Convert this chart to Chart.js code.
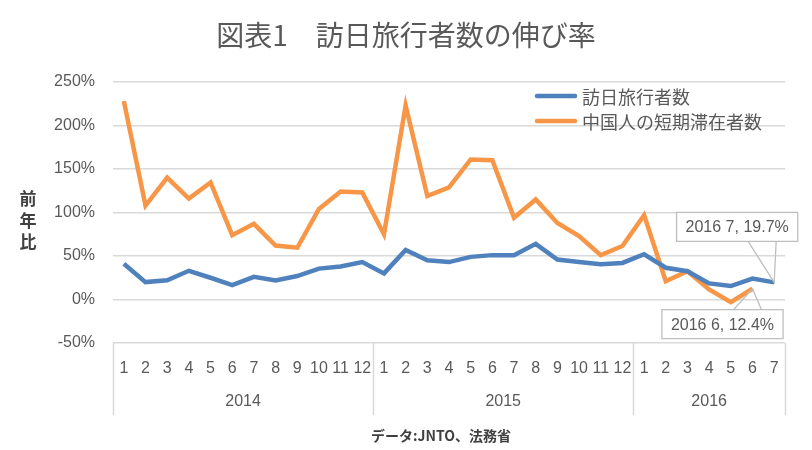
<!DOCTYPE html>
<html>
<head>
<meta charset="utf-8">
<script src="https://cdn.jsdelivr.net/npm/chart.js@4"></script>
<style>
	body { margin: 0; background: #fff; }
	#wrap { width: 812px; height: 450px; }
</style>
</head>
<body>
<div id="wrap"><canvas id="growthChart"></canvas></div>
<script>
// categories
const years = ['2014', '2015', '2016'];
const monthsPerYear = [12, 12, 7];
const months = [
	'1', '2', '3', '4', '5', '6', '7', '8', '9', '10', '11', '12',
	'1', '2', '3', '4', '5', '6', '7', '8', '9', '10', '11', '12',
	'1', '2', '3', '4', '5', '6', '7'
];

// series (%)
const seriesNames = ['訪日旅行者数', '中国人の短期滞在者数'];
const visitors = [
	41, 20, 22, 33, 25, 16.5, 26, 22, 27, 35.5, 38, 43,
	30, 57, 45, 43, 49, 51, 51, 64, 46, 43, 40.5, 42,
	52, 36.5, 32.5, 18.5, 15.5, 24, 19.7
];
const chinaShortStay = [
	228, 108, 140, 116, 134.5, 74, 87, 62, 59.5, 104, 124, 123,
	75, 223, 119, 129, 161, 160, 94, 115, 88, 73, 51, 61.5,
	97, 21, 32.5, 11.5, -3, 12.4
];

// y ticks
const yTicks = [-50, 0, 50, 100, 150, 200, 250];

// labelled points: [dataset index, point index]
const calloutPoints = [[0, 30], [1, 29]];

const chartTitle = '図表1　訪日旅行者数の伸び率';
const gray = '#595959';
const gridColor = '#d9d9d9';
const latin = '"Liberation Sans", Arial, sans-serif';
const cjk = '"Noto Sans CJK JP", sans-serif';

function yearOf(index) {
	let n = index;
	for (let y = 0; y < years.length; y++) {
		if (n < monthsPerYear[y]) return years[y];
		n -= monthsPerYear[y];
	}
	return '';
}

const decor = {
	id: 'decor',
	afterDraw(chart) {
		const ctx = chart.ctx;
		const x = chart.scales.x;
		const area = chart.chartArea;
		const step = x.width / months.length;
		ctx.save();

		// title
		ctx.fillStyle = gray;
		ctx.textAlign = 'center';
		ctx.textBaseline = 'middle';
		ctx.font = '28px ' + cjk;
		ctx.fillText(chartTitle, 406, 35);

		// year dividers and labels
		ctx.strokeStyle = gridColor;
		ctx.lineWidth = 1.5;
		ctx.font = '16px ' + latin;
		let first = 0;
		const edges = [x.getPixelForValue(0) - step / 2];
		years.forEach((yr, i) => {
			const last = first + monthsPerYear[i] - 1;
			const left = x.getPixelForValue(first) - step / 2;
			const right = x.getPixelForValue(last) + step / 2;
			edges.push(right);
			ctx.fillText(yr, (left + right) / 2, area.bottom + 59);
			first = last + 1;
		});
		edges.forEach(px => {
			ctx.beginPath();
			ctx.moveTo(Math.round(px) + 0.5, area.bottom);
			ctx.lineTo(Math.round(px) + 0.5, area.bottom + 72);
			ctx.stroke();
		});

		// y axis title, stacked
		ctx.fillStyle = '#404040';
		ctx.font = 'bold 17px ' + cjk;
		const yTitle = '前年比';
		const mid = (area.top + area.bottom) / 2 + 8;
		for (let i = 0; i < yTitle.length; i++) {
			ctx.fillText(yTitle[i], 28, mid + (i - 1) * 21.5);
		}

		// footer
		ctx.font = 'bold 14px ' + cjk;
		ctx.fillText('データ:JNTO、法務省', 441, 436);

		// legend inside plot
		ctx.textAlign = 'left';
		ctx.font = '18px ' + cjk;
		chart.data.datasets.forEach((ds, i) => {
			const ly = 96 + i * 25;
			ctx.strokeStyle = ds.borderColor;
			ctx.lineWidth = 4.5;
			ctx.lineCap = 'round';
			ctx.beginPath();
			ctx.moveTo(537, ly);
			ctx.lineTo(575, ly);
			ctx.stroke();
			ctx.fillStyle = gray;
			ctx.fillText(ds.label, 582, ly + 1);
		});

		// callouts
		ctx.font = '16px ' + latin;
		ctx.textAlign = 'center';
		ctx.lineCap = 'butt';
		const boxes = [
			{ dx: -37, dy: -70, up: true },
			{ dx: -30, dy: 21, up: false }
		];
		calloutPoints.forEach(([d, i], k) => {
			const pt = chart.getDatasetMeta(d).data[i];
			const val = chart.data.datasets[d].data[i];
			const text = yearOf(i) + ' ' + months[i] + ', ' + val.toFixed(1) + '%';
			const w = ctx.measureText(text).width + 18;
			const h = 29;
			const cx = pt.x + boxes[k].dx;
			const top = pt.y + boxes[k].dy;
			const edgeY = boxes[k].up ? top + h : top;
			ctx.fillStyle = '#fff';
			ctx.strokeStyle = '#bfbfbf';
			ctx.lineWidth = 1.3;
			ctx.beginPath();
			ctx.rect(cx - w / 2, top, w, h);
			ctx.fill();
			ctx.stroke();
			ctx.beginPath();
			ctx.moveTo(cx + 11, edgeY);
			ctx.lineTo(pt.x, pt.y);
			ctx.lineTo(cx + 39, edgeY);
			ctx.stroke();
			ctx.fillStyle = gray;
			ctx.fillText(text, cx, top + h / 2 + 1);
		});
		ctx.restore();
	}
};

new Chart(document.getElementById('growthChart'), {
	type: 'line',
	data: {
		labels: months,
		datasets: [{
			label: seriesNames[0],
			data: visitors,
			borderColor: '#4f81bd',
			borderWidth: 4.5,
			pointRadius: 0,
			tension: 0
		}, {
			label: seriesNames[1],
			data: chinaShortStay,
			borderColor: '#f79646',
			borderWidth: 4.5,
			pointRadius: 0,
			tension: 0
		}]
	},
	options: {
		responsive: true,
		maintainAspectRatio: false,
		animation: false,
		layout: { padding: { left: 0, right: 27, top: 82, bottom: 0 } },
		plugins: {
			legend: { display: false },
			tooltip: { enabled: false },
			title: { display: false }
		},
		scales: {
			x: {
				offset: true,
				afterFit: s => { s.height = 107; },
				grid: { display: false, drawTicks: false },
				border: { display: false },
				ticks: {
					color: gray,
					font: { family: latin, size: 16 },
					padding: 16,
					maxRotation: 0,
					autoSkip: false
				}
			},
			y: {
				min: -50,
				max: 250,
				afterFit: s => { s.width = 113; },
				afterBuildTicks: s => { s.ticks = yTicks.map(v => ({ value: v })); },
				grid: { color: gridColor, lineWidth: 1.5, drawTicks: false },
				border: { display: false },
				ticks: {
					color: gray,
					font: { family: latin, size: 16 },
					padding: 18,
					callback: v => v + '%'
				}
			}
		}
	},
	plugins: [decor]
});
</script>
</body>
</html>
